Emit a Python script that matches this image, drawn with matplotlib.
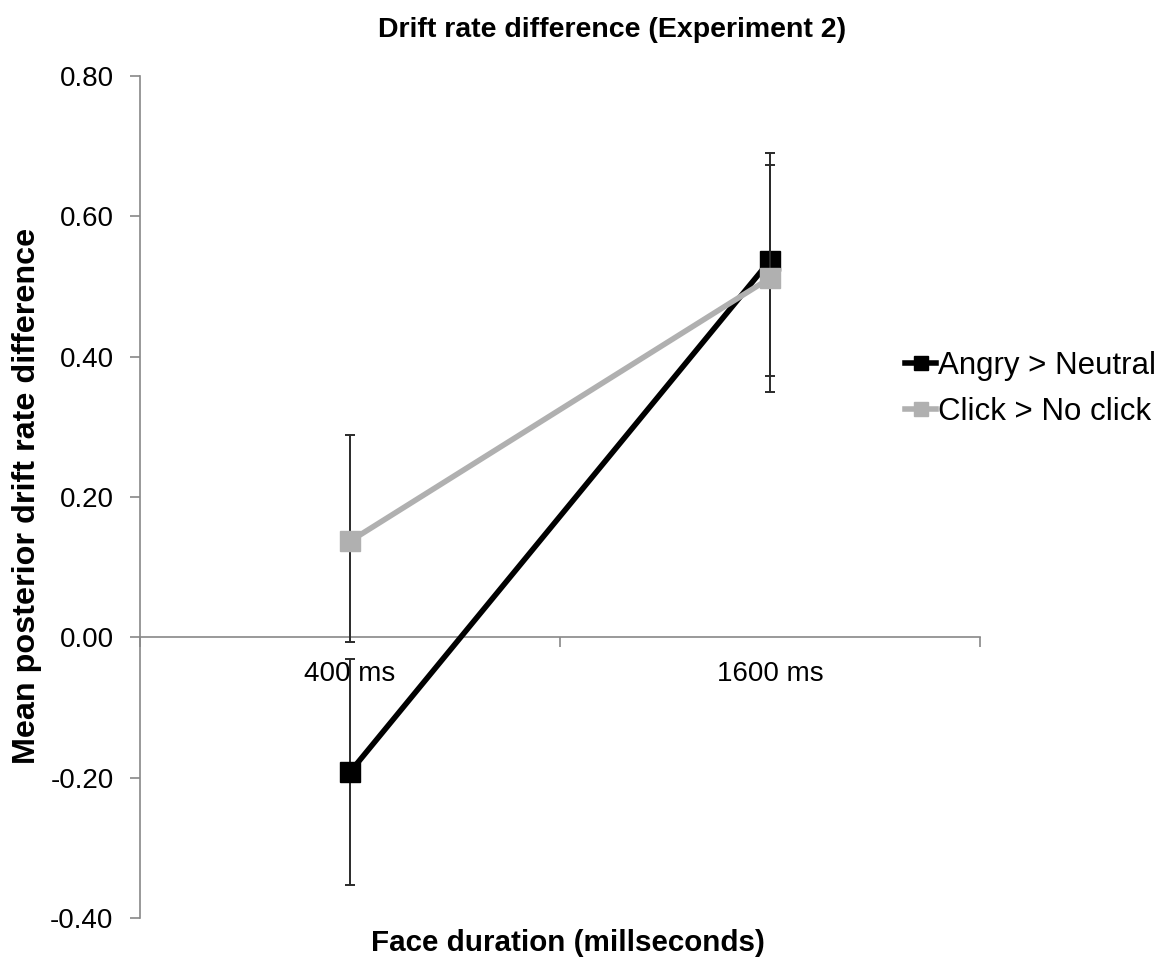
import matplotlib
matplotlib.use("Agg")
import matplotlib.pyplot as plt
import numpy as np

plt.rcParams['font.family'] = ['Liberation Sans', 'DejaVu Sans']

categories = ["400 ms", "1600 ms"]
series_names = ["Angry > Neutral", "Click > No click"]
angry = [-0.192, 0.537]
angry_low = [-0.353, 0.372]
angry_high = [-0.031, 0.690]
click = [0.137, 0.512]
click_low = [-0.007, 0.350]
click_high = [0.288, 0.673]

fig = plt.figure(figsize=(11.72, 9.63), dpi=100)
ax = fig.add_axes([140/1172, 45/963, 840/1172, 842/963])

x = np.arange(len(categories))

def draw(vals, lo, hi, color, label, z):
    vals = np.array(vals); lo = np.array(lo); hi = np.array(hi)
    ax.errorbar(x, vals, yerr=[vals - lo, hi - vals], fmt='none', ecolor='#2a2a2a',
                elinewidth=1.4, capsize=3.5, capthick=1.4, zorder=z - 1)
    ax.plot(x, vals, color=color, lw=4.0, marker='s', markersize=14,
            label=label, zorder=z)

draw(angry, angry_low, angry_high, 'black', series_names[0], 4)
draw(click, click_low, click_high, '#b0b0b0', series_names[1], 5)

ax.set_xlim(-0.5, 1.5)
ax.set_ylim(-0.40, 0.80)
yt = np.arange(-0.4, 0.81, 0.2)
ax.set_yticks(yt)
ax.set_yticklabels([f"{v:.2f}" for v in yt], fontsize=20)
ax.tick_params(axis='y', length=7, color='#888888', width=1.2, pad=12)

for s in ['top', 'right']:
    ax.spines[s].set_visible(False)
ax.spines['left'].set_color('#888888')
ax.spines['left'].set_linewidth(1.2)
ax.spines['bottom'].set_position(('data', 0))
ax.spines['bottom'].set_color('#888888')
ax.spines['bottom'].set_linewidth(1.2)

ax.set_xticks([-0.5, 0.5, 1.5])
ax.set_xticklabels([])
ax.tick_params(axis='x', length=7, color='#888888', width=1.2, direction='out')
for xi, c in zip(x, categories):
    ax.text(xi, -0.034, c, ha='center', va='top', fontsize=20, zorder=3)

fig.text(612/1172, 1 - 30/963, "Drift rate difference (Experiment 2)", ha='center', va='center',
         fontsize=20.5, fontweight='bold')
fig.text(568/1172, 1 - 943/963, "Face duration (millseconds)", ha='center', va='center',
         fontsize=21.3, fontweight='bold')
fig.text(27/1172, 1 - 496/963, "Mean posterior drift rate difference", ha='center', va='center',
         rotation=90, fontsize=23.3, fontweight='bold')

leg = ax.legend(loc='center left', bbox_to_anchor=(905/1172, 1 - 389/963),
                bbox_transform=fig.transFigure, frameon=False, fontsize=22.5,
                handlelength=1.0, handletextpad=0.05, labelspacing=0.5,
                borderpad=0, borderaxespad=0, markerscale=0.75)

fig.savefig("out.png", dpi=100)
